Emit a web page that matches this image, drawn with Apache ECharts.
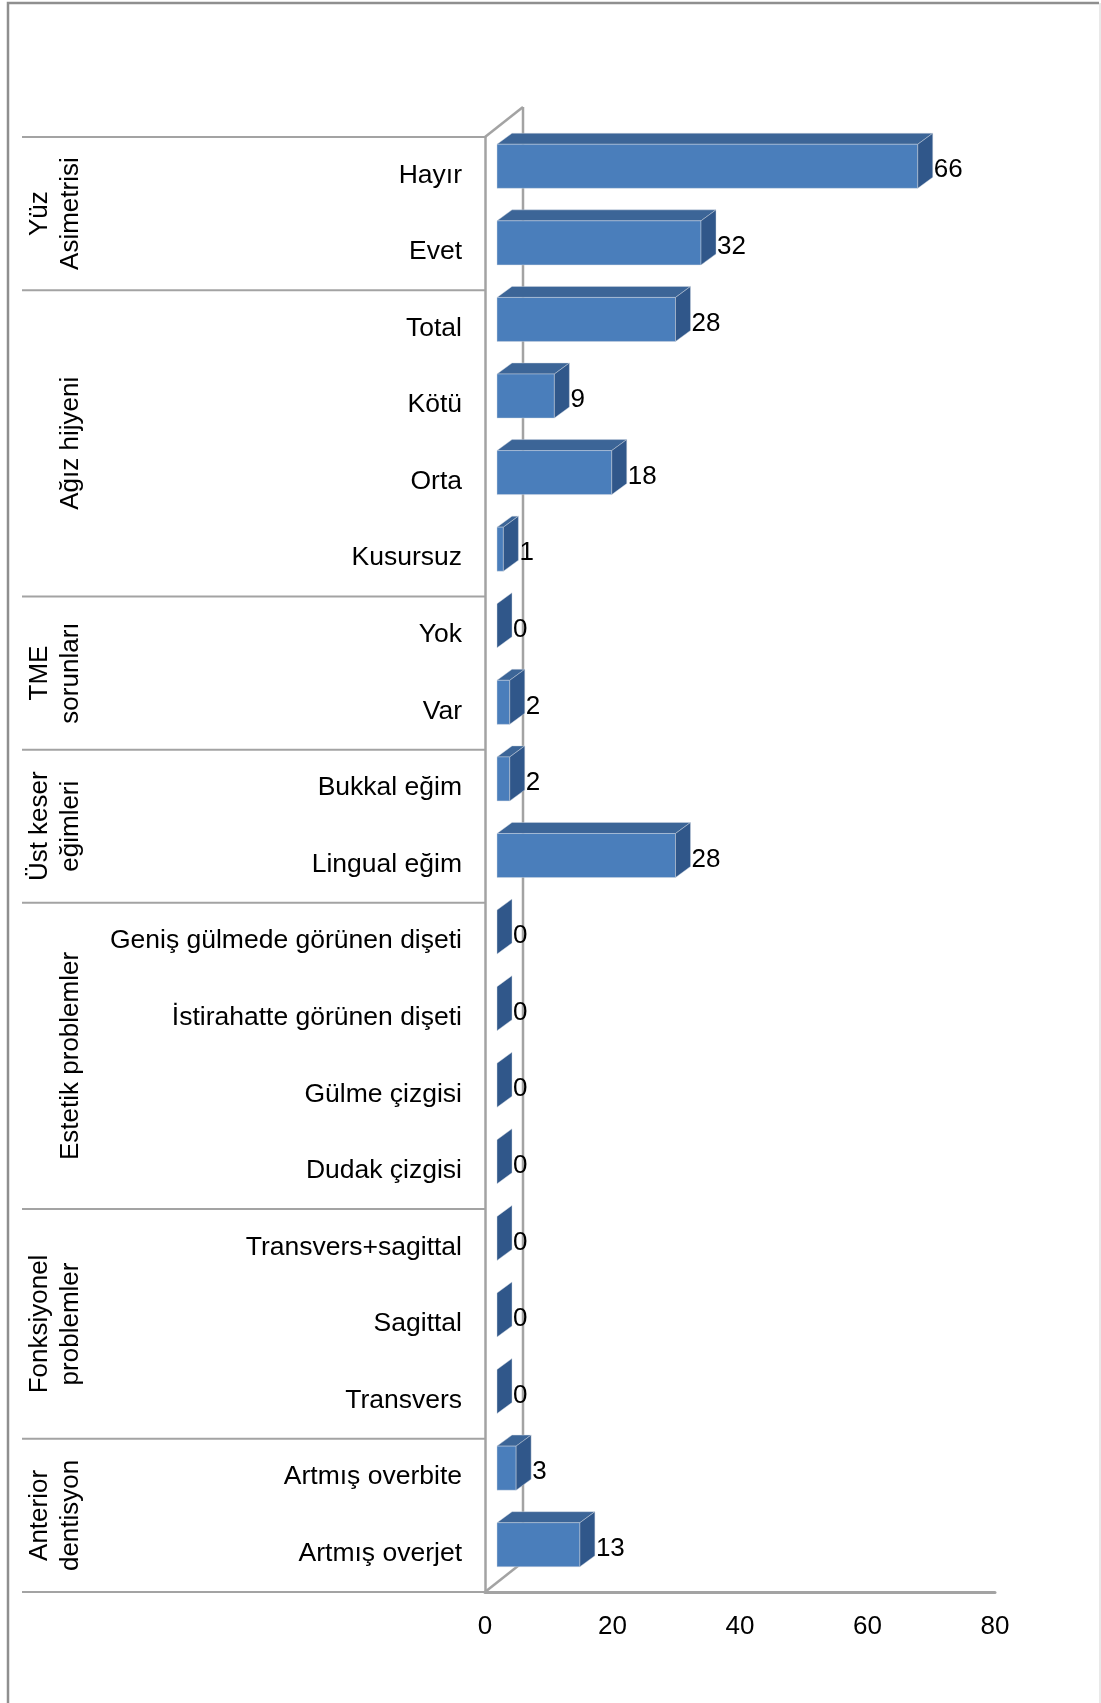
<!DOCTYPE html>
<html>
<head>
<meta charset="utf-8">
<script src="https://cdn.jsdelivr.net/npm/echarts@6/dist/echarts.min.js"></script>
<style>
  html, body { margin: 0; padding: 0; background: #ffffff; }
  #chart { width: 1101px; height: 1703px; }
</style>
</head>
<body>
<div id="chart"></div>
<script>
// Category labels (top to bottom)
const categories = [
  'Hayır', 'Evet',
  'Total', 'Kötü', 'Orta', 'Kusursuz',
  'Yok', 'Var',
  'Bukkal eğim', 'Lingual eğim',
  'Geniş gülmede görünen dişeti', 'İstirahatte görünen dişeti', 'Gülme çizgisi', 'Dudak çizgisi',
  'Transvers+sagittal', 'Sagittal', 'Transvers',
  'Artmış overbite', 'Artmış overjet'
];
// Counts per category
const values = [66, 32, 28, 9, 18, 1, 0, 2, 2, 28, 0, 0, 0, 0, 0, 0, 0, 3, 13];
// Outer category groups and how many rows each spans
const groupNames = [
  'Yüz\nAsimetrisi', 'Ağız hijyeni', 'TME\nsorunları', 'Üst keser\neğimleri',
  'Estetik problemler', 'Fonksiyonel\nproblemler', 'Anterior\ndentisyon'
];
const groupSizes = [2, 4, 2, 2, 4, 3, 2];
// Value axis ticks
const xTicks = [0, 20, 40, 60, 80];

const FONT = '"Liberation Sans", Arial, Helvetica, sans-serif';
const GRID_LINE = '#a3a3a3';
// depth of the chart's wall and of each bar
const WALL_DX = 38, WALL_DY = -30;
const BAR_OFF_X = 12, BAR_OFF_Y = -9;
const BAR_DX = 15, BAR_DY = -11;

const chart = echarts.init(document.getElementById('chart'), null, { renderer: 'canvas' });

const barData = values.map((v, i) => [v, i]);
let startIdx = 0;
const groupData = groupSizes.map((n, g) => {
  const item = [startIdx, n, g];
  startIdx += n;
  return item;
});

function renderWall(params, api) {
  const cs = params.coordSys;
  const x = cs.x, top = cs.y, bottom = cs.y + cs.height;
  const st = { stroke: GRID_LINE, lineWidth: 2.5 };
  return {
    type: 'group',
    children: [
      { type: 'line', shape: { x1: x, y1: top, x2: x + WALL_DX, y2: top + WALL_DY }, style: st },
      { type: 'line', shape: { x1: x + WALL_DX, y1: top + WALL_DY, x2: x + WALL_DX, y2: bottom + WALL_DY }, style: st },
      { type: 'line', shape: { x1: x, y1: bottom, x2: x + WALL_DX, y2: bottom + WALL_DY }, style: st }
    ]
  };
}

function renderGroup(params, api) {
  const cs = params.coordSys;
  const start = api.value(0), count = api.value(1), g = api.value(2);
  const band = api.size([0, 1])[1];
  const y0 = cs.y + start * band;
  const y1 = y0 + count * band;
  const lineSt = { stroke: GRID_LINE, lineWidth: 2 };
  const children = [
    { type: 'line', shape: { x1: 22, y1: y0, x2: cs.x, y2: y0 }, style: lineSt }
  ];
  if (g === groupSizes.length - 1) {
    children.push({ type: 'line', shape: { x1: 22, y1: y1, x2: cs.x, y2: y1 }, style: lineSt });
  }
  children.push({
    type: 'text',
    x: 86, y: (y0 + y1) / 2,
    rotation: Math.PI / 2,
    style: {
      text: groupNames[g],
      font: '26px ' + FONT,
      fill: '#000',
      align: 'center',
      verticalAlign: 'bottom',
      lineHeight: 31
    }
  });
  return { type: 'group', children };
}

function renderBar(params, api) {
  const v = api.value(0), idx = api.value(1);
  const p0 = api.coord([0, idx]);
  const p1 = api.coord([v, idx]);
  const band = api.size([0, 1])[1];
  const h = band * 0.575;
  const cy = p0[1] + BAR_OFF_Y;
  const xl = p0[0] + BAR_OFF_X, xr = p1[0] + BAR_OFF_X;
  const yt = cy - h / 2, yb = cy + h / 2;
  const edge = 'rgba(210,215,225,0.55)';
  const children = [];
  if (xr - xl > 0.1) {
    children.push({
      type: 'polygon',
      shape: { points: [[xl, yt], [xr, yt], [xr + BAR_DX, yt + BAR_DY], [xl + BAR_DX, yt + BAR_DY]] },
      style: { fill: '#3c6597', stroke: edge, lineWidth: 0.8 }
    });
    children.push({
      type: 'rect',
      shape: { x: xl, y: yt, width: xr - xl, height: h },
      style: { fill: '#4a7ebb', stroke: edge, lineWidth: 0.8 }
    });
  }
  children.push({
    type: 'polygon',
    shape: { points: [[xr, yt], [xr + BAR_DX, yt + BAR_DY], [xr + BAR_DX, yb + BAR_DY], [xr, yb]] },
    style: { fill: '#30578a', stroke: edge, lineWidth: 0.8 }
  });
  children.push({
    type: 'text',
    x: xr + BAR_DX + 1,
    y: p0[1] - 5,
    style: {
      text: String(v),
      font: '26px ' + FONT,
      fill: '#000',
      align: 'left',
      verticalAlign: 'middle'
    }
  });
  return { type: 'group', children };
}

chart.setOption({
  animation: false,
  backgroundColor: '#ffffff',
  textStyle: { fontFamily: FONT },
  graphic: [
    {
      type: 'polyline',
      shape: { points: [[8, 1703], [8, 3], [1099, 3]] },
      style: { fill: 'none', stroke: '#8f8f8f', lineWidth: 2.5 },
      silent: true,
      z: -10
    },
    {
      type: 'line',
      shape: { x1: 1100, y1: 3, x2: 1100, y2: 1703 },
      style: { stroke: '#e2e2e2', lineWidth: 1.5 },
      silent: true,
      z: -10
    }
  ],
  grid: { left: 485, top: 137, width: 510, height: 1455, containLabel: false },
  xAxis: {
    type: 'value',
    min: xTicks[0],
    max: xTicks[xTicks.length - 1],
    interval: xTicks[1] - xTicks[0],
    axisLine: { show: true, lineStyle: { color: GRID_LINE, width: 3 } },
    axisTick: { show: false },
    splitLine: { show: false },
    axisLabel: { fontSize: 26, color: '#000', margin: 22, fontFamily: FONT }
  },
  yAxis: {
    type: 'category',
    inverse: true,
    data: categories,
    axisLine: { show: true, lineStyle: { color: GRID_LINE, width: 2.5 } },
    axisTick: { show: false },
    splitLine: { show: false },
    axisLabel: { fontSize: 26.5, color: '#000', margin: 23, fontFamily: FONT, interval: 0 }
  },
  series: [
    {
      type: 'custom',
      name: 'wall',
      renderItem: renderWall,
      data: [[0, 0]],
      encode: { x: 0, y: 1 },
      clip: false,
      silent: true,
      z: 1
    },
    {
      type: 'custom',
      name: 'groups',
      renderItem: renderGroup,
      data: groupData,
      encode: { x: 0, y: 0 },
      clip: false,
      silent: true,
      z: 1
    },
    {
      type: 'custom',
      name: 'values',
      renderItem: renderBar,
      data: barData,
      encode: { x: 0, y: 1 },
      clip: false,
      z: 5
    }
  ]
});
</script>
</body>
</html>
